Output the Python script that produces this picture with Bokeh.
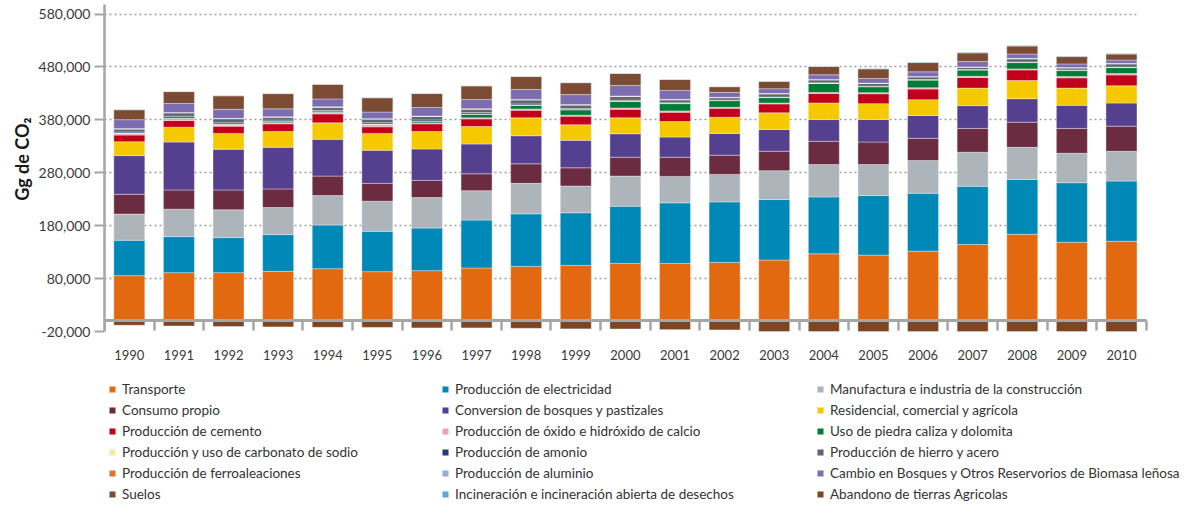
from bokeh.plotting import figure
from bokeh.models import (FixedTicker, NumeralTickFormatter, Legend, LegendItem,
                          ColumnDataSource, Title)
from bokeh.embed import file_html
from bokeh.resources import INLINE

years = [1990, 1991, 1992, 1993, 1994, 1995, 1996, 1997, 1998, 1999, 2000,
         2001, 2002, 2003, 2004, 2005, 2006, 2007, 2008, 2009, 2010]

transporte = [85600, 91250, 91250, 93750, 98750, 93100, 95000, 100000, 103100, 105000, 108750,
              108750, 110600, 115000, 126900, 124400, 131900, 144400, 163750, 148750, 150600]
electricidad = [66900, 68100, 66250, 69400, 82500, 76250, 80600, 90600, 99400, 99400, 108100,
                114400, 114400, 114400, 107500, 112500, 109400, 110000, 103750, 112500, 113750]
manufactura = [49400, 51900, 52500, 51250, 55600, 56900, 57500, 55600, 57500, 50600, 56900,
               50000, 51900, 54400, 61200, 58750, 61900, 64400, 60600, 55600, 56250]
consumo = [37500, 36250, 37500, 35000, 36900, 33750, 32500, 31900, 36900, 34400, 35600,
           36250, 36250, 36900, 43800, 42500, 41900, 45000, 47500, 46900, 47500]
conversion = [73100, 90600, 76900, 78750, 69400, 62500, 59400, 56250, 53100, 51900, 44400,
              38100, 41250, 41250, 41200, 42500, 43100, 43100, 44400, 43750, 43750]
residencial = [26250, 28100, 30000, 30000, 31250, 31900, 33100, 33100, 33750, 29400, 30000,
               29400, 30600, 31250, 31300, 30000, 30000, 33100, 34400, 32500, 32500]
cemento = [12500, 12500, 13750, 14400, 16900, 12500, 14400, 14400, 14400, 16250, 16250,
           17500, 16900, 16900, 18100, 18750, 20000, 20000, 20000, 19400, 20600]
oxido = [2500, 2000, 2000, 2000, 2000, 2500, 1300, 1900, 2500, 1900, 2500,
         2500, 1900, 1900, 1900, 1900, 2500, 2500, 1900, 2500, 2500]
caliza = [1000, 2500, 1500, 2000, 1500, 2000, 2500, 6900, 6900, 10000, 12500,
          13750, 12500, 10000, 17000, 11250, 14400, 11600, 11900, 11250, 11250]
carbonato = [600, 500, 500, 500, 500, 600, 600, 600, 600, 600, 600,
             600, 500, 600, 600, 600, 600, 600, 600, 600, 600]
amonio = [1800, 3000, 2500, 2500, 2500, 2500, 3000, 2500, 2000, 2000, 1500,
          1000, 500, 500, 500, 500, 500, 500, 500, 500, 500]
hierro = [5500, 6500, 7500, 5500, 6000, 7000, 6500, 6500, 7500, 6500, 7000,
          5500, 4500, 6000, 5500, 5000, 5000, 4200, 6000, 3800, 6000]
ferro = [300, 300, 300, 300, 300, 300, 300, 300, 400, 400, 400,
         400, 300, 400, 400, 300, 300, 300, 400, 300, 400]
aluminio = [500, 500, 500, 500, 500, 500, 500, 500, 600, 600, 600,
            600, 500, 600, 500, 500, 500, 400, 600, 400, 600]
cambio = [16900, 16900, 16900, 15000, 15000, 12500, 16250, 17500, 18750, 18750, 20000,
          16900, 9400, 8750, 8750, 8750, 8750, 10000, 8100, 7000, 6250]
suelos = [18750, 22500, 25600, 28750, 27500, 26900, 26250, 25600, 24400, 22500, 22500,
          20600, 10600, 13750, 15600, 18100, 17500, 16500, 15000, 13750, 11250]
incineracion = [400, 400, 400, 400, 400, 400, 500, 500, 500, 500, 500,
                600, 600, 600, 700, 800, 1200, 1200, 1200, 1200, 1200]
abandono = [-8200, -9500, -10500, -11300, -12000, -12200, -13200, -13200, -13900, -15000, -15200,
            -16400, -17000, -20000, -20000, -20000, -20000, -20000, -20000, -20000, -20000]

y_ticks = [-20000, 80000, 180000, 280000, 380000, 480000, 580000]

labels = [
    "Transporte", "Producción de electricidad", "Manufactura e industria de la construcción",
    "Consumo propio", "Conversion de bosques y pastizales", "Residencial, comercial y agrícola",
    "Producción de cemento", "Producción de óxido e hidróxido de calcio", "Uso de piedra caliza y dolomita",
    "Producción y uso de carbonato de sodio", "Producción de amonio", "Producción de hierro y acero",
    "Producción de ferroaleaciones", "Producción de aluminio", "Cambio en Bosques y Otros Reservorios de Biomasa leñosa",
    "Suelos", "Incineración e incineración abierta de desechos", "Abandono de tierras Agricolas",
]
keys = ["transporte", "electricidad", "manufactura", "consumo", "conversion", "residencial",
        "cemento", "oxido", "caliza", "carbonato", "amonio", "hierro", "ferro", "aluminio",
        "cambio", "suelos", "incineracion"]
colors = ["#e2690f", "#0088b7", "#adb5ba", "#6b2c41", "#55408f", "#f6c800",
          "#c1001b", "#f0a1b2", "#007c36", "#f6e8a8", "#263e78", "#60666c",
          "#d9743a", "#95afd2", "#7b6daf", "#7b4b34", "#5aa6d8"]
abandono_color = "#7e4522"

src = ColumnDataSource(dict(
    year=years, transporte=transporte, electricidad=electricidad, manufactura=manufactura,
    consumo=consumo, conversion=conversion, residencial=residencial, cemento=cemento,
    oxido=oxido, caliza=caliza, carbonato=carbonato, amonio=amonio, hierro=hierro,
    ferro=ferro, aluminio=aluminio, cambio=cambio, suelos=suelos,
    incineracion=incineracion, abandono=abandono))

FONT = "Lato"
GRAY = "#a6a6a6"
X_LO, X_HI = years[0] - 0.5, years[-1] + 0.5

# the frame runs to the bottom and right edges of the canvas so that the year
# labels and the legend (drawn outside the plotted area) are not clipped
p = figure(width=1180, height=503, x_range=(X_LO, 2011.19), y_range=(-345000, 598000),
           output_backend="svg", toolbar_location=None,
           min_border_left=104, min_border_right=0, min_border_top=4, min_border_bottom=0)
p.outline_line_color = None
p.background_fill_color = "white"

rs = p.vbar_stack(keys, x="year", width=0.625, fill_color=colors, source=src,
                  line_color="white", line_width=0.6, line_alpha=0.6)
r_ab = p.vbar(x="year", top=0, bottom="abandono", width=0.625, source=src,
              fill_color=abandono_color, line_color="white", line_width=0.6, line_alpha=0.6)
renderers = list(rs) + [r_ab]

# grid
p.xgrid.visible = False
p.ygrid.ticker = FixedTicker(ticks=y_ticks[1:])
p.ygrid.grid_line_color = "#9d9d9d"
p.ygrid.grid_line_dash = "2 3"
p.ygrid.grid_line_width = 1.6
if "cross_bounds" in p.ygrid.properties():
    p.ygrid.cross_bounds = (X_LO, X_HI - 0.2)

# y axis
ya = p.yaxis[0]
ya.ticker = FixedTicker(ticks=y_ticks)
ya.bounds = (y_ticks[0], 598000)
ya.formatter = NumeralTickFormatter(format="0,0")
ya.axis_line_color = GRAY
ya.axis_line_width = 2.5
ya.major_tick_line_color = GRAY
ya.major_tick_line_width = 2
ya.major_tick_out = 10
ya.major_tick_in = 0
ya.minor_tick_line_color = None
ya.major_label_standoff = 4
ya.major_label_text_font = FONT
ya.major_label_text_font_size = "14px"
ya.major_label_text_color = "#3a3a3a"

ttl = Title(text="Gg de CO₂", align="right", offset=113, text_font=FONT,
            text_font_size="18px", text_font_style="bold", text_color="#1a1a1a", standoff=6)
p.add_layout(ttl, "left")

# x axis at y = 0 with ticks between bars
xa = p.xaxis[0]
xa.fixed_location = 0
xa.bounds = (X_LO, X_HI)
xa.ticker = FixedTicker(ticks=years, minor_ticks=[y - 0.5 for y in years] + [X_HI])
xa.axis_line_color = GRAY
xa.axis_line_width = 3
xa.major_tick_line_color = None
xa.major_tick_out = 0
xa.major_tick_in = 0
xa.minor_tick_line_color = GRAY
xa.minor_tick_line_width = 2.5
xa.minor_tick_out = 10
xa.minor_tick_in = 0
xa.major_label_standoff = 19
xa.major_label_text_font = FONT
xa.major_label_text_font_size = "13px"
xa.major_label_text_color = "#3a3a3a"

# legends: three columns of six entries
col_x = [4, 337, 712]
for c in range(3):
    items = [LegendItem(label=labels[i], renderers=[renderers[i]]) for i in range(c, 18, 3)]
    lg = Legend(items=items, location=(col_x[c], 1), orientation="vertical",
                glyph_width=8, glyph_height=8, label_standoff=6, label_height=16, spacing=5,
                padding=0, margin=0, border_line_alpha=0, background_fill_alpha=0,
                label_text_font=FONT, label_text_font_size="13.5px", label_text_color="#333333")
    p.add_layout(lg, "center")

open("out.html", "w").write(file_html(p, INLINE))
